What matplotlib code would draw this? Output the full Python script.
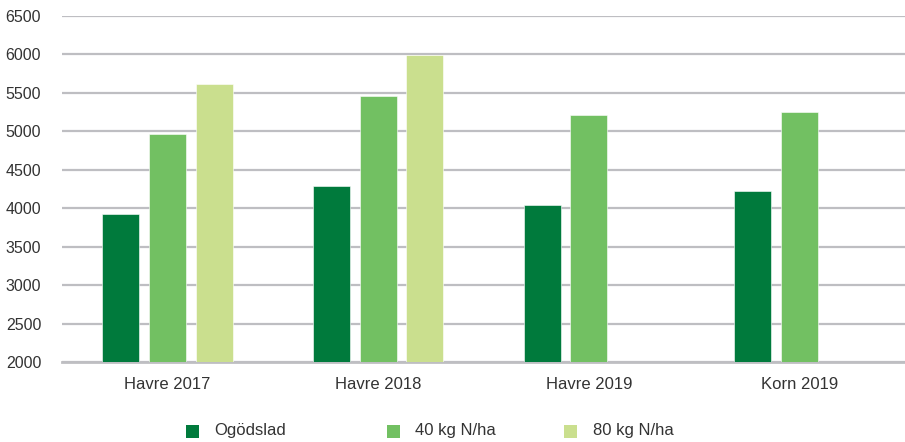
import matplotlib
matplotlib.use("Agg")
import matplotlib.pyplot as plt
import numpy as np
from matplotlib.patches import Rectangle

categories = ["Havre 2017", "Havre 2018", "Havre 2019", "Korn 2019"]
series_names = ["Ogödslad", "40 kg N/ha", "80 kg N/ha"]
ogodslad = [3925, 4290, 4040, 4230]
n40 = [4970, 5460, 5215, 5245]
n80 = [5620, 5995, None, None]
colors = ["#007A3C", "#72C062", "#CADF8E"]
yticks = [2000, 2500, 3000, 3500, 4000, 4500, 5000, 5500, 6000, 6500]

plt.rcParams["font.family"] = ["Liberation Sans", "DejaVu Sans"]

W, H = 905, 442
fig = plt.figure(figsize=(W / 100, H / 100), dpi=100)
ax = fig.add_axes([62 / W, 80 / H, 843 / W, 346 / H])

x = np.arange(len(categories))
width = 0.175
step = 0.222
for i, (vals, col, name) in enumerate(zip([ogodslad, n40, n80], colors, series_names)):
    xs = [xi + (i - 1) * step for xi, v in zip(x, vals) if v is not None]
    vs = [v for v in vals if v is not None]
    ax.bar(xs, [v - 2000 for v in vs], width=width, bottom=2000, color=col,
           edgecolor="#FFFFFF", linewidth=0.4, zorder=3, label=name)

ax.set_xlim(-0.5, len(categories) - 0.5)
ax.set_ylim(2000, 6500)
ax.set_yticks(yticks)
ax.set_yticklabels([str(t) for t in yticks])
ax.set_xticks(x)
ax.set_xticklabels(categories)
ax.yaxis.grid(True, color="#BEBEC2", linewidth=1.6, zorder=0)
ax.set_axisbelow(True)
for s in ["top", "right", "left"]:
    ax.spines[s].set_visible(False)
ax.spines["bottom"].set_color("#BEBEC2")
ax.spines["bottom"].set_linewidth(2.0)
ax.tick_params(axis="both", length=0, labelsize=11.5, colors="#333333")
ax.tick_params(axis="x", labelsize=12)
ax.tick_params(axis="y", pad=15)
ax.tick_params(axis="x", pad=11)

# legend row below the axis
legend_x = [186, 387, 564]
text_x = [214, 415, 593]
box = 13
y_center = 431
for lx, tx, col, name in zip(legend_x, text_x, colors, series_names):
    fig.patches.append(Rectangle((lx / W, (H - y_center - box / 2) / H), box / W, box / H,
                                 transform=fig.transFigure, facecolor=col, edgecolor="none"))
    fig.text(tx / W, (H - y_center) / H, name, ha="left", va="center",
             fontsize=12, color="#333333")

fig.savefig("out.png", dpi=100)
